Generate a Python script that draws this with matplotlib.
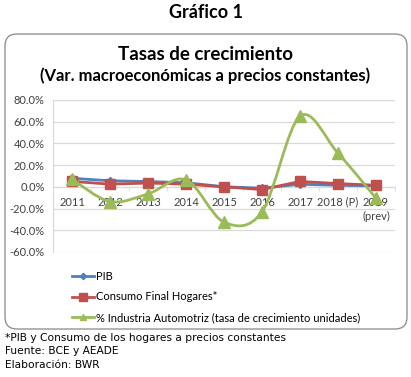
import matplotlib
matplotlib.use("Agg")
import matplotlib.pyplot as plt
import numpy as np
from matplotlib.patches import FancyBboxPatch
from matplotlib.path import Path
from matplotlib.patches import PathPatch

# ── data ─────────────────────────────────────────────────────────────────────
years = ["2011", "2012", "2013", "2014", "2015", "2016", "2017", "2018 (P)", "2019\n(prev)"]
pib = [7.9, 5.6, 4.9, 3.8, 0.1, -1.2, 2.4, 1.4, 1.0]
consumo = [5.0, 2.5, 3.5, 2.5, 0.0, -2.5, 5.0, 3.0, 1.5]
automotriz = [7.0, -13.5, -6.5, 6.5, -32.5, -23.0, 65.0, 31.0, -10.5]

BLUE = "#4F81BD"
RED = "#C0504D"
GREEN = "#9BBB59"
GRID = "#D9D9D9"

plt.rcParams["font.family"] = ["Lato", "DejaVu Sans"]

fig = plt.figure(figsize=(4.11, 3.77), dpi=100)
fig.patch.set_facecolor("white")

# ── rounded frame (pixel coords) ─────────────────────────────────────────────
bg = fig.add_axes([0, 0, 1, 1], zorder=0)
bg.set_xlim(0, 411)
bg.set_ylim(377, 0)
bg.axis("off")
bg.add_patch(FancyBboxPatch((5, 34), 402, 295,
                            boxstyle="round,pad=0,rounding_size=12",
                            facecolor="white", edgecolor="#888888", linewidth=0.9))

# ── titles ───────────────────────────────────────────────────────────────────
fig.text(0.5, 1 - 13 / 377, "Gráfico 1", ha="center", va="center",
         fontsize=13, fontweight="bold", color="black")
fig.text(0.5, 1 - 55 / 377, "Tasas de crecimiento", ha="center", va="center",
         fontsize=13.5, fontweight="bold", color="black")
fig.text(0.5, 1 - 76 / 377, "(Var. macroeconómicas a precios constantes)", ha="center",
         va="center", fontsize=12, fontweight="bold", color="black")

# ── plot area ────────────────────────────────────────────────────────────────
ax = fig.add_axes([53 / 411, 1 - 252 / 377, 342 / 411, 152 / 377], zorder=2)
ax.set_facecolor("none")
x = np.arange(len(years))
ax.set_xlim(-0.5, len(years) - 0.5)
ax.set_ylim(-60, 80)

yt = np.arange(-60, 81, 20)
ax.set_yticks(yt)
ax.set_yticklabels([f"{v:.1f}%" for v in yt], fontsize=8, color="#404040")
ax.yaxis.grid(True, color=GRID, linewidth=0.9)
ax.set_axisbelow(True)
ax.tick_params(axis="y", length=0, pad=6)

for s in ["top", "right"]:
    ax.spines[s].set_visible(False)
ax.spines["left"].set_color(GRID)
ax.spines["bottom"].set_position(("data", 0))
ax.spines["bottom"].set_color(GRID)

ax.set_xticks(x)
ax.set_xticklabels(years, fontsize=8, color="#404040", linespacing=1.4)
ax.set_xticks(np.arange(-0.5, len(years), 1), minor=True)
ax.tick_params(axis="x", which="major", length=0, pad=7)
ax.tick_params(axis="x", which="minor", length=3, color=GRID)

# PIB / consumo
ax.plot(x, pib, color=BLUE, linewidth=2, marker="D", markersize=4,
        label="PIB", zorder=3)
ax.plot(x, consumo, color=RED, linewidth=2, marker="s", markersize=7,
        label="Consumo Final Hogares*", zorder=4)

# smoothed green line (Excel-style bezier through the data points)
pts = np.column_stack([x, automotriz]).astype(float)
verts = [tuple(pts[0])]
codes = [Path.MOVETO]
for i in range(len(pts) - 1):
    p0 = pts[max(i - 1, 0)]
    p1 = pts[i]
    p2 = pts[i + 1]
    p3 = pts[min(i + 2, len(pts) - 1)]
    c1 = p1 + (p2 - p0) / 6
    c2 = p2 - (p3 - p1) / 6
    verts += [tuple(c1), tuple(c2), tuple(p2)]
    codes += [Path.CURVE4] * 3
ax.add_patch(PathPatch(Path(verts, codes), facecolor="none", edgecolor=GREEN,
                       linewidth=2, zorder=5))
ax.plot(x, automotriz, linestyle="none", marker="^", markersize=8, color=GREEN,
        zorder=6)
ax.plot([], [], color=GREEN, linewidth=2, marker="^", markersize=6,
        label="% Industria Automotriz (tasa de crecimiento unidades)")

# legend
h, l = ax.get_legend_handles_labels()
fig.legend(h, l, loc="upper left", bbox_to_anchor=(62 / 411, 1 - 261 / 377),
           frameon=False, fontsize=8, handlelength=2.0, handletextpad=0.15,
           labelspacing=0.85, markerscale=0.8)

# footnotes
notes = ["*PIB y Consumo de los hogares a precios constantes",
         "Fuente: BCE y AEADE",
         "Elaboración: BWR"]
for i, t in enumerate(notes):
    fig.text(5 / 411, 1 - (338 + 13.5 * i) / 377, t, ha="left", va="center",
             fontsize=7.7, color="black", family=["DejaVu Sans"])

fig.savefig("out.png", dpi=100)
